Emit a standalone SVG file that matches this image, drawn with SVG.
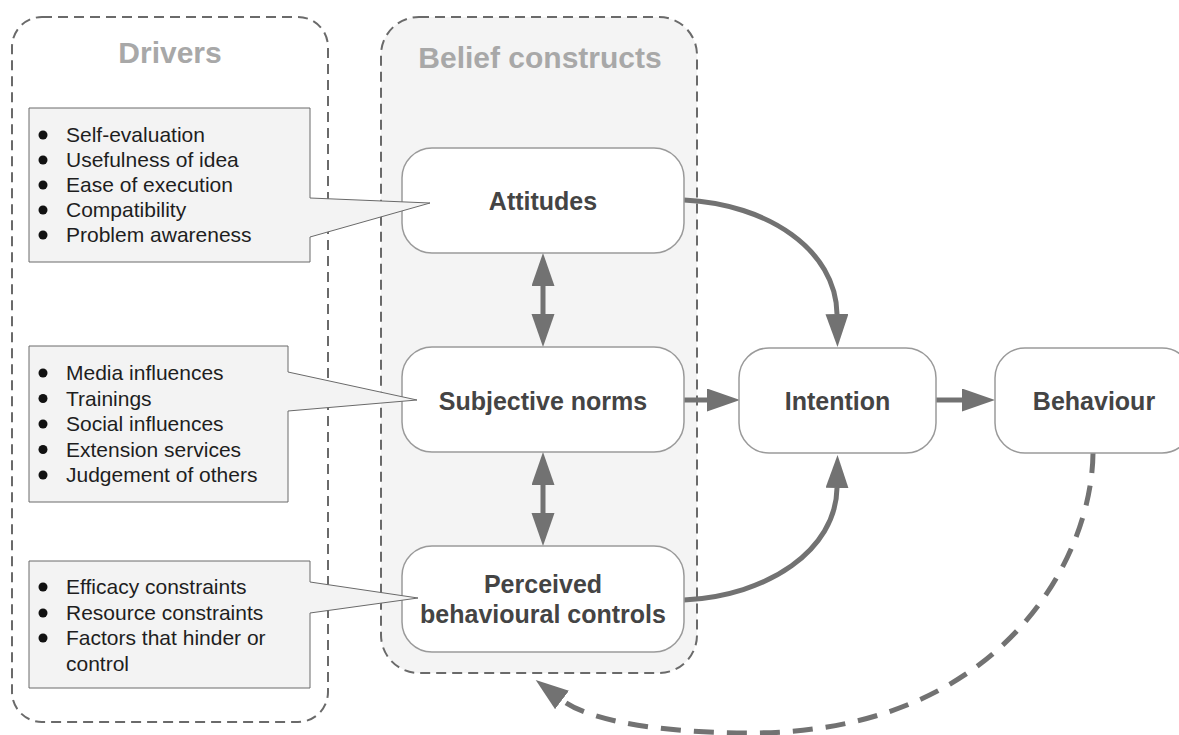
<svg xmlns="http://www.w3.org/2000/svg" width="1179" height="735" viewBox="0 0 1179 735">
<style>
.cont{fill:none;stroke:#6a6a6a;stroke-width:2;stroke-dasharray:10 6}
.head{font-family:"Liberation Sans",Arial,sans-serif;font-weight:bold;font-size:30px;fill:#a8a8a8;text-anchor:middle}
.node{fill:#fff;stroke:#9a9a9a;stroke-width:1.5}
.nt{font-family:"Liberation Sans",Arial,sans-serif;font-weight:bold;font-size:25px;fill:#444;text-anchor:middle}
.call{fill:#f3f3f3;stroke:#6a6a6a;stroke-width:1}
.bt{font-family:"Liberation Sans",Arial,sans-serif;font-size:21px;fill:#1e1e1e}
.bul{fill:#111}
.con{fill:none;stroke:#727272;stroke-width:5}
.dash{stroke-dasharray:20 13}
</style>
<defs>
<marker id="ah" markerUnits="userSpaceOnUse" markerWidth="34" markerHeight="24" refX="0" refY="11.5" orient="auto-start-reverse">
<path d="M0,0 L33,11.5 L0,23 Z" fill="#727272"/>
</marker>
</defs>
<g id="drivers">
<rect class="cont" x="12" y="17" width="316" height="705" rx="30"/>
<text class="head" x="170" y="63">Drivers</text>
</g>
<g id="belief">
<rect class="cont" x="381" y="17" width="316" height="656" rx="38" style="fill:#f4f4f4"/>
<text class="head" x="540" y="68">Belief constructs</text>
</g>
<g id="connectors">
<path class="con" d="M684,200 C768,204 836,250 837,314" marker-end="url(#ah)"/>
<path class="con" d="M684,400 L707,400" marker-end="url(#ah)"/>
<path class="con" d="M936,400 L962,400" marker-end="url(#ah)"/>
<path class="con" d="M684,600 C768,596 836,550 837,488" marker-end="url(#ah)"/>
<path class="con" d="M543,286 L543,314" marker-start="url(#ah)" marker-end="url(#ah)"/>
<path class="con" d="M543,485 L543,513" marker-start="url(#ah)" marker-end="url(#ah)"/>
<path class="con dash" d="M1093,453 C1092,560 1000,733 750,733 C680,733 595,725 562,700" marker-end="url(#ah)"/>
</g>
<g id="attitudes">
<rect class="node" x="402" y="148" width="282" height="105" rx="30"/>
<text class="nt" x="543" y="210">Attitudes</text>
</g>
<g id="subjective-norms">
<rect class="node" x="402" y="347" width="282" height="105" rx="30"/>
<text class="nt" x="543" y="410">Subjective norms</text>
</g>
<g id="perceived">
<rect class="node" x="402" y="546" width="282" height="106" rx="30"/>
<text class="nt" x="543" y="593">Perceived</text>
<text class="nt" x="543" y="623">behavioural controls</text>
</g>
<g id="intention">
<rect class="node" x="739" y="348" width="197" height="105" rx="30"/>
<text class="nt" x="837.5" y="410">Intention</text>
</g>
<g id="behaviour">
<rect class="node" x="995" y="348" width="197" height="105" rx="30"/>
<text class="nt" x="1094" y="410">Behaviour</text>
</g>
<g id="callout-attitudes">
<path class="call" d="M29,108 L310,108 L310,198 L430,203 L310,237 L310,262 L29,262 Z"/>
<circle class="bul" cx="43" cy="135" r="4.5"/><text class="bt" x="66" y="142">Self-evaluation</text>
<circle class="bul" cx="43" cy="160" r="4.5"/><text class="bt" x="66" y="167">Usefulness of idea</text>
<circle class="bul" cx="43" cy="185" r="4.5"/><text class="bt" x="66" y="192">Ease of execution</text>
<circle class="bul" cx="43" cy="210" r="4.5"/><text class="bt" x="66" y="217">Compatibility</text>
<circle class="bul" cx="43" cy="235" r="4.5"/><text class="bt" x="66" y="242">Problem awareness</text>
</g>
<g id="callout-norms">
<path class="call" d="M29,346 L288,346 L288,372 L417,400 L288,411 L288,502 L29,502 Z"/>
<circle class="bul" cx="43" cy="373" r="4.5"/><text class="bt" x="66" y="380">Media influences</text>
<circle class="bul" cx="43" cy="398.5" r="4.5"/><text class="bt" x="66" y="405.5">Trainings</text>
<circle class="bul" cx="43" cy="424" r="4.5"/><text class="bt" x="66" y="431">Social influences</text>
<circle class="bul" cx="43" cy="449.5" r="4.5"/><text class="bt" x="66" y="456.5">Extension services</text>
<circle class="bul" cx="43" cy="475" r="4.5"/><text class="bt" x="66" y="482">Judgement of others</text>
</g>
<g id="callout-controls">
<path class="call" d="M29,561 L310,561 L310,582 L418,598 L310,613 L310,688 L29,688 Z"/>
<circle class="bul" cx="43" cy="587" r="4.5"/><text class="bt" x="66" y="594">Efficacy constraints</text>
<circle class="bul" cx="43" cy="613" r="4.5"/><text class="bt" x="66" y="620">Resource constraints</text>
<circle class="bul" cx="43" cy="638" r="4.5"/><text class="bt" x="66" y="645">Factors that hinder or</text>
<text class="bt" x="66" y="671">control</text>
</g>
</svg>
